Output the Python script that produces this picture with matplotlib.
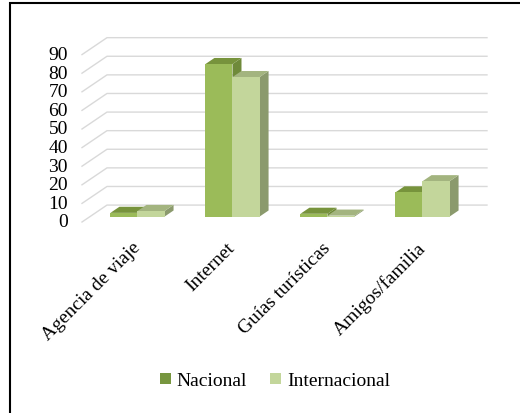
import matplotlib.pyplot as plt
from matplotlib.patches import Polygon, Rectangle, Patch

categories = ["Agencia de viaje", "Internet", "Guías turísticas", "Amigos/familia"]
series_names = ["Nacional", "Internacional"]
nacional = [2, 82, 1.5, 13]
internacional = [3, 75, 0.5, 19]
yticks = list(range(0, 100, 10))

# face colours per series: front, top, side
colors = {
    "Nacional": ("#9bbb59", "#77933c", "#6f8a3a"),
    "Internacional": ("#c3d69b", "#a3b47f", "#8b9a6d"),
}
legend_colors = ["#77963f", "#c3d69b"]

# oblique projection of the 3D chart box
DX, DY = 0.263, 9.1          # full depth offset (category units, value units)
D0, D1 = 0.32, 0.68          # bar depth span
BAR_W = 0.285
FONT = ["Liberation Serif", "DejaVu Serif"]


def proj(x, y, d):
    return (x + d * DX, y + d * DY)


plt.rcParams["font.family"] = FONT
fig = plt.figure(figsize=(5.2, 4.14), dpi=100)
ax = fig.add_axes([0, 0, 1, 1])
px_x, px_y = 95.0, 1.86
ax.set_xlim(-82 / px_x, (520 - 82) / px_x)
ax.set_ylim(-(414 - 223) / px_y, 223 / px_y)
ax.axis("off")

n = len(categories)
# gridlines: side wall diagonal + back wall
for v in yticks:
    pts = [proj(0, v, 0), proj(0, v, 1), proj(n, v, 1)]
    ax.plot([p[0] for p in pts], [p[1] for p in pts], color="#d9d9d9", lw=1.0, zorder=1)
    ax.text(-14 / px_x, v, str(v), ha="right", va="center", fontsize=14)

# bars
for i in range(n):
    for s, vals in enumerate([nacional, internacional]):
        v = vals[i]
        front, top, side = colors[series_names[s]]
        x0 = i + 0.5 - BAR_W + s * BAR_W
        x1 = x0 + BAR_W
        ax.add_patch(Polygon([proj(x1, 0, D0), proj(x1, 0, D1), proj(x1, v, D1), proj(x1, v, D0)],
                             closed=True, facecolor=side, edgecolor="none", zorder=2 + s))
        ax.add_patch(Polygon([proj(x0, v, D0), proj(x1, v, D0), proj(x1, v, D1), proj(x0, v, D1)],
                             closed=True, facecolor=top, edgecolor="none", zorder=2 + s))
        ax.add_patch(Polygon([proj(x0, 0, D0), proj(x1, 0, D0), proj(x1, v, D0), proj(x0, v, D0)],
                             closed=True, facecolor=front, edgecolor="none", zorder=2 + s))

# category labels
for i, c in enumerate(categories):
    ax.text(i + 0.52, -9, c, rotation=45, ha="right", va="top",
            rotation_mode="anchor", fontsize=14)

handles = [Patch(facecolor=legend_colors[k], edgecolor="none", label=series_names[k]) for k in range(2)]
fig.legend(handles=handles, loc="center", bbox_to_anchor=(275 / 520, 1 - 382 / 414), ncol=2,
           frameon=False, prop={"family": FONT, "size": 14}, handlelength=0.55, handleheight=0.55,
           handletextpad=0.3, columnspacing=1.2)

fig.add_artist(Rectangle((10 / 520, -0.1), 1.2, 1.1 - 4 / 414, transform=fig.transFigure,
                         fill=False, edgecolor="black", lw=1.5))

fig.savefig("out.png", dpi=100)
